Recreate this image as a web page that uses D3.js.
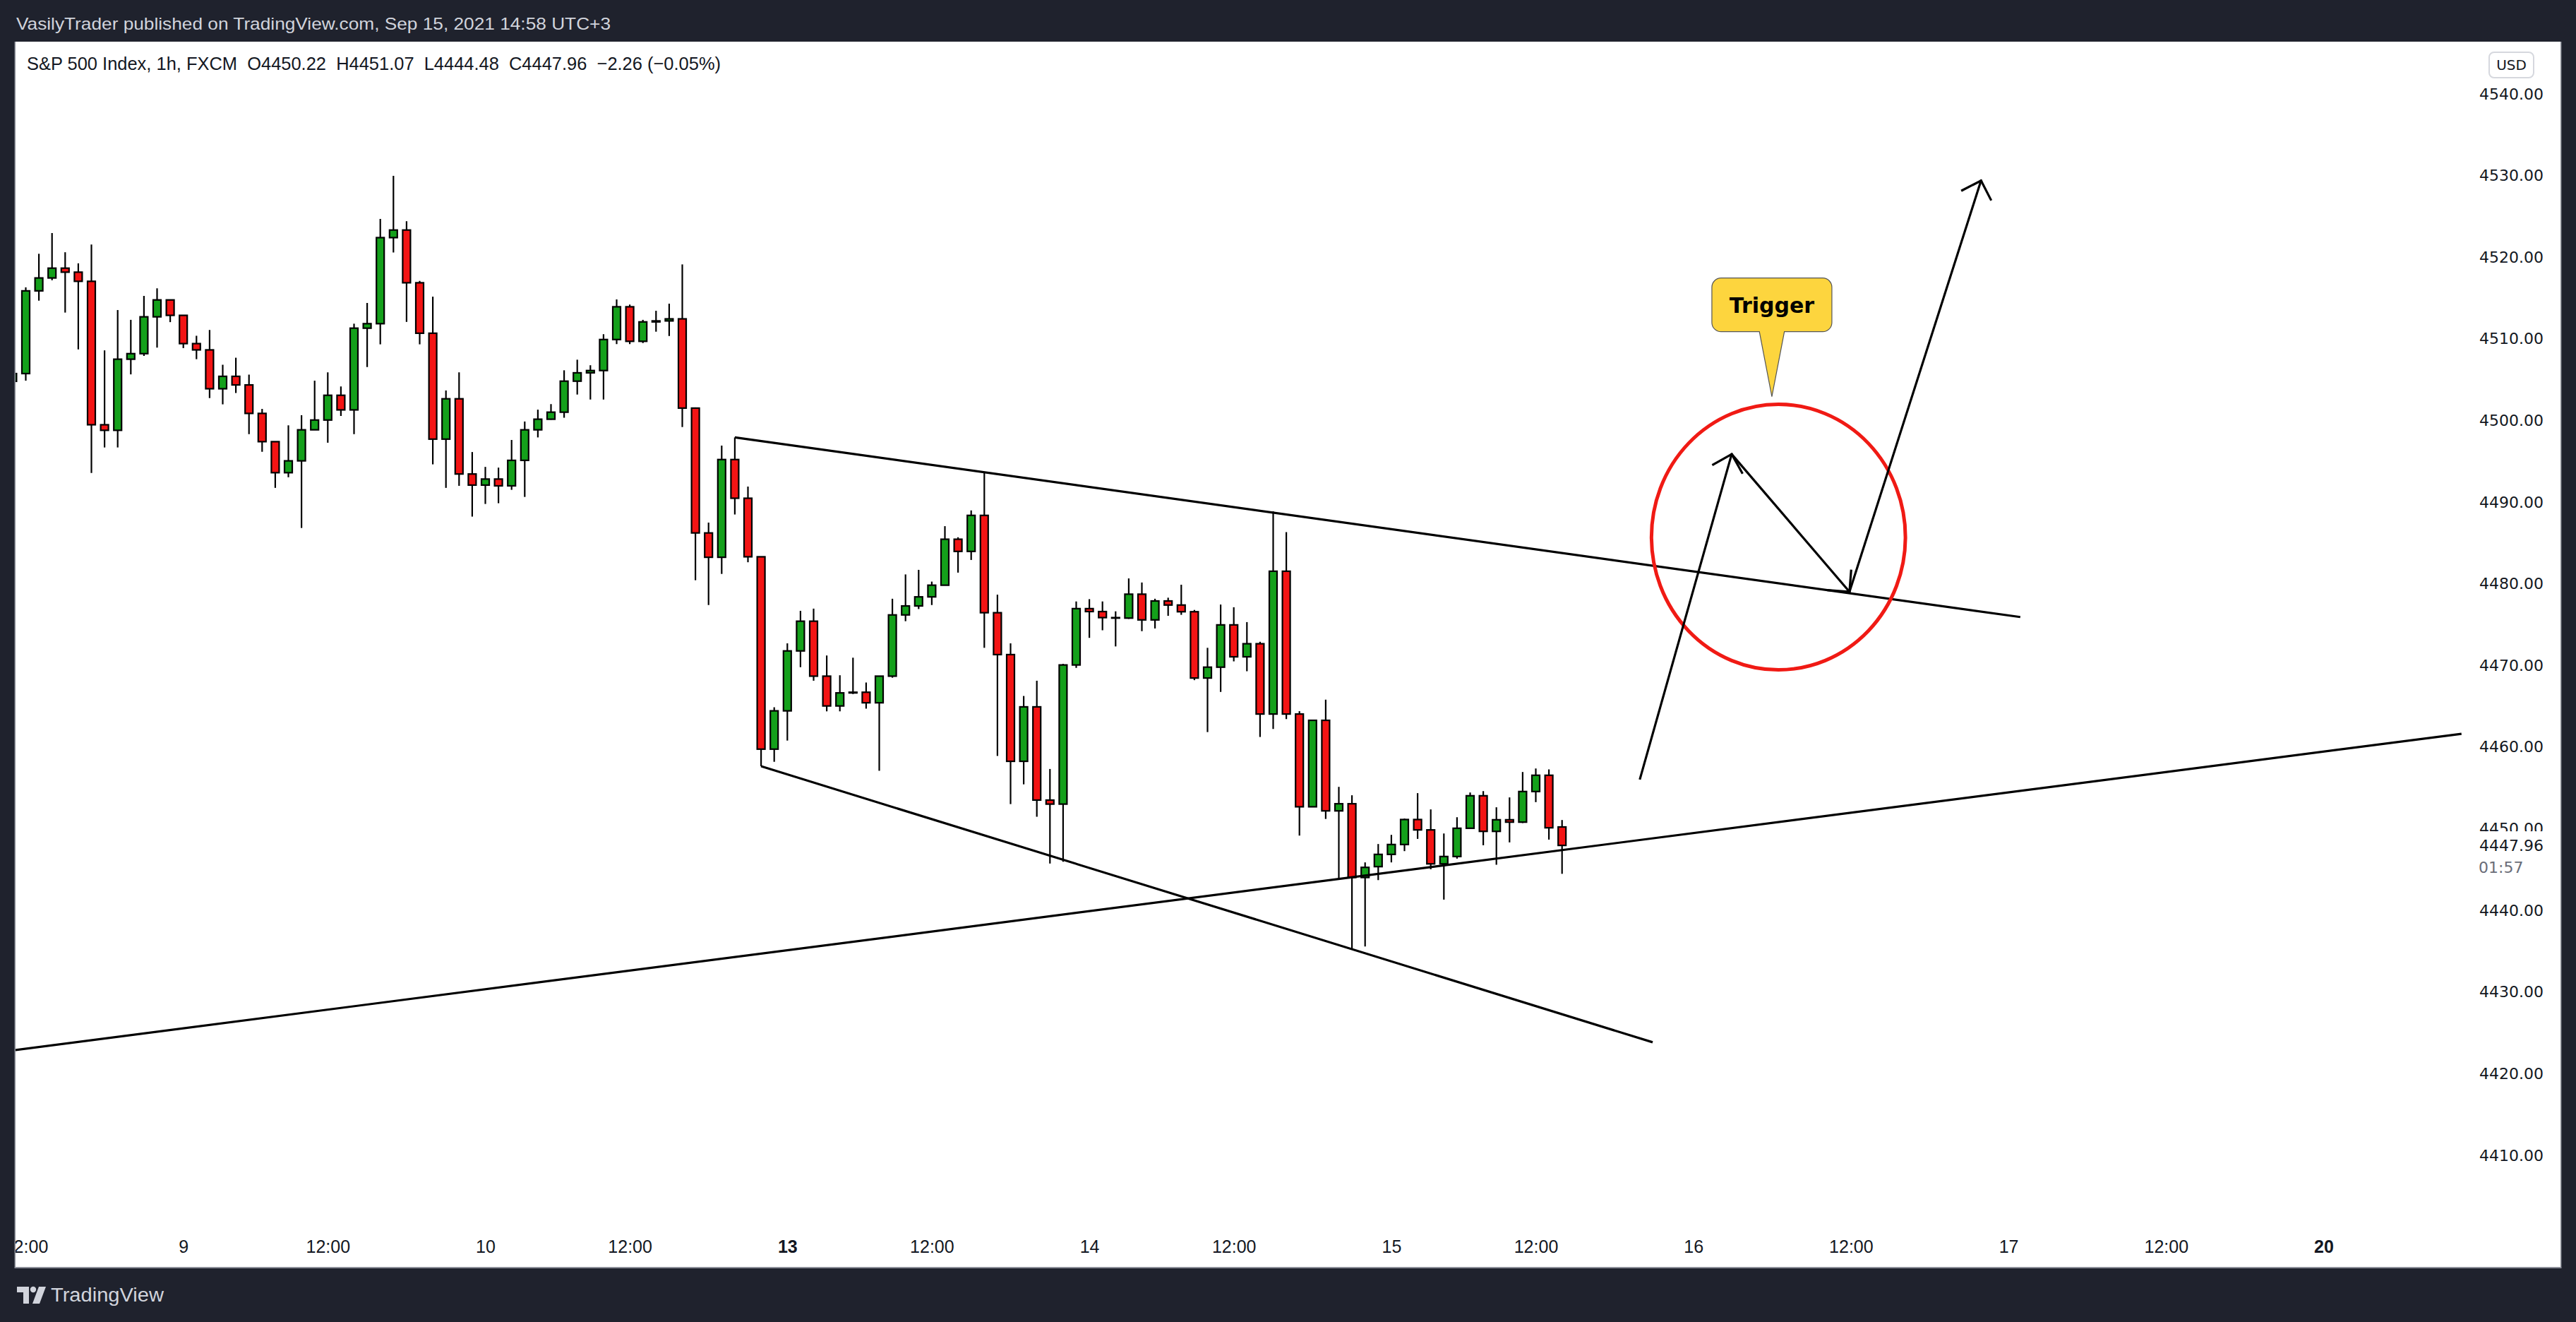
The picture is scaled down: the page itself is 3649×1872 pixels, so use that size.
<!DOCTYPE html>
<html><head><meta charset="utf-8">
<script src="https://cdn.jsdelivr.net/npm/d3@7"></script>
<style>
html,body{margin:0;padding:0;background:#1f222d;}
svg{display:block;}
</style></head>
<body>
<script>
// ---------- DATA ----------
const firstBar = -1; // bar index of first candle (bar 0 = Sep 8, 12:00)
const opens  = [4504.8,4505.75,4515.88,4517.46,4518.66,4518.17,4517.05,4499.48,4498.80,4507.51,4508.19,4512.70,4514.77,4512.88,4509.42,4508.65,4503.89,4505.41,4504.36,4500.87,4497.41,4493.61,4495.06,4498.86,4500.06,4503.09,4501.30,4511.31,4511.86,4522.40,4523.33,4516.87,4510.69,4497.72,4502.66,4493.45,4492.09,4492.83,4492.00,4495.12,4498.86,4500.16,4501.02,4504.82,4505.84,4506.12,4509.92,4513.93,4509.70,4512.08,4512.20,4512.45,4501.52,4486.23,4483.25,4495.22,4490.48,4483.31,4459.75,4464.44,4471.78,4475.42,4468.69,4465.04,4466.64,4466.72,4465.43,4468.69,4476.19,4477.29,4478.40,4479.83,4485.46,4483.97,4488.38,4476.46,4471.33,4458.26,4464.93,4453.51,4453.02,4470.06,4476.96,4476.60,4475.86,4475.80,4478.73,4475.58,4477.90,4477.40,4476.58,4468.46,4469.79,4474.97,4471.06,4472.66,4464.05,4481.54,4464.05,4452.69,4463.28,4452.19,4453.06,4444.03,4445.36,4446.86,4448.07,4451.13,4449.86,4445.70,4446.60,4450.06,4454.04,4449.68,4451.10,4450.81,4454.56,4456.55,4450.22];
const highs  = [4506.0,4516.31,4520.42,4522.96,4520.61,4519.25,4521.56,4508.59,4513.53,4512.33,4515.26,4516.19,4514.77,4512.88,4510.38,4511.09,4506.83,4507.69,4505.62,4501.42,4497.41,4499.41,4500.65,4504.88,4505.90,4504.17,4511.86,4514.40,4524.69,4529.97,4524.41,4517.10,4515.17,4503.68,4505.90,4496.14,4494.32,4494.23,4497.62,4499.88,4501.33,4502.01,4506.15,4507.45,4506.77,4510.57,4514.83,4514.20,4512.33,4513.44,4514.31,4519.12,4501.60,4487.50,4496.93,4497.93,4491.91,4483.31,4464.88,4472.71,4476.69,4476.96,4471.22,4468.80,4470.95,4467.91,4468.69,4478.17,4481.15,4481.71,4480.27,4487.06,4485.70,4488.99,4493.57,4478.67,4472.71,4466.26,4468.13,4457.32,4470.20,4477.84,4478.12,4477.84,4476.63,4480.66,4480.16,4478.17,4478.30,4479.89,4476.80,4472.16,4477.46,4477.13,4475.31,4472.90,4488.88,4486.34,4464.40,4463.28,4465.81,4455.13,4454.10,4445.88,4448.13,4449.25,4451.25,4454.36,4452.37,4449.42,4451.41,4454.44,4454.61,4452.63,4453.84,4456.95,4457.38,4457.27,4451.07];
const lows   = [4504.5,4504.88,4514.68,4517.18,4513.22,4508.71,4493.58,4496.70,4496.70,4505.65,4507.91,4508.93,4512.05,4508.87,4507.51,4502.75,4501.98,4503.37,4498.33,4496.17,4491.75,4493.05,4486.84,4498.86,4497.28,4500.56,4498.33,4506.55,4509.33,4520.58,4512.08,4509.33,4494.63,4491.75,4492.00,4488.23,4489.78,4489.87,4491.51,4490.64,4497.93,4500.10,4500.34,4503.18,4502.57,4502.57,4509.36,4509.36,4509.49,4510.88,4510.35,4499.20,4480.44,4477.40,4481.21,4488.49,4482.64,4457.65,4458.20,4460.80,4469.79,4468.13,4464.38,4464.38,4466.50,4464.71,4457.10,4468.50,4475.42,4476.91,4477.40,4479.83,4481.37,4482.92,4472.16,4458.92,4453.02,4455.44,4451.47,4445.74,4445.96,4469.70,4473.38,4474.31,4472.33,4475.70,4474.20,4474.53,4476.08,4476.20,4468.20,4461.84,4466.76,4470.50,4469.29,4461.24,4462.23,4463.44,4449.16,4452.69,4451.20,4443.95,4435.30,4435.58,4443.71,4445.88,4447.26,4448.76,4445.04,4441.32,4446.34,4450.06,4447.98,4445.59,4448.33,4450.70,4453.26,4448.67,4444.48];
const closes = [4505.75,4515.88,4517.46,4518.66,4518.17,4517.05,4499.48,4498.80,4507.51,4508.19,4512.70,4514.77,4512.88,4509.42,4508.65,4503.89,4505.41,4504.36,4500.87,4497.41,4493.61,4495.06,4498.86,4500.06,4503.09,4501.30,4511.31,4511.86,4522.40,4523.33,4516.87,4510.69,4497.72,4502.66,4493.45,4492.09,4492.83,4492.00,4495.12,4498.86,4500.16,4501.02,4504.82,4505.84,4506.12,4509.92,4513.93,4509.70,4512.08,4512.20,4512.45,4501.52,4486.23,4483.25,4495.22,4490.48,4483.31,4459.75,4464.44,4471.78,4475.42,4468.69,4465.04,4466.64,4466.72,4465.43,4468.69,4476.19,4477.29,4478.40,4479.83,4485.46,4483.97,4488.38,4476.46,4471.33,4458.26,4464.93,4453.51,4453.02,4470.06,4476.96,4476.60,4475.86,4475.80,4478.73,4475.58,4477.90,4477.40,4476.58,4468.46,4469.79,4474.97,4471.06,4472.66,4464.05,4481.54,4464.05,4452.69,4463.28,4452.19,4453.06,4444.03,4445.27,4446.86,4448.07,4451.13,4449.86,4445.70,4446.60,4450.06,4454.04,4449.68,4451.10,4450.81,4454.56,4456.55,4450.12,4447.96];

const priceTicks = [4540,4530,4520,4510,4500,4490,4480,4470,4460,4450,4440,4430,4420,4410];
const timeTickBars   = [0,12,23,35,46,58,69,81,92,104,115,127,139,151,163,175];
const timeTickLabels = ["12:00","9","12:00","10","12:00","13","12:00","14","12:00","15","12:00","16","12:00","17","12:00","20"];
const boldTimeLabels = ["13","20"];

// drawings (bar index, price)
const upperLine  = [[54,4497.93],[151.9,4475.93]];
const lowerLine  = [[56,4457.65],[123.9,4423.85]];
const risingLine = [[-2,4422.65],[185.5,4461.63]];
const arrowPath  = [[122.92,4456.02],[129.92,4495.88],[138.89,4479.02],[148.91,4529.38]];
const circleCenter = [133.48,4485.72];
const circleRadius = [9.67,16.26]; // bars, price
const triggerTip = [132.98,4502.92];
const triggerText = "Trigger";

const headerText = "VasilyTrader published on TradingView.com, Sep 15, 2021 14:58 UTC+3";
const legendText = "S&P 500 Index, 1h, FXCM  O4450.22  H4451.07  L4444.48  C4447.96  \u22122.26 (\u22120.05%)";
const lastPrice = 4447.96;
const countdown = "01:57";
const currency = "USD";

// ---------- LAYOUT ----------
const W = 3649, H = 1872;
const pane = {x0: 22, y0: 59, x1: 3627, y1: 1794};
const plotRight = 3495, plotBottom = 1725;
const x = d3.scaleLinear().domain([0,175]).range([36.5, 36.5+175*18.6]);
const y = d3.scaleLinear().domain([4410,4540]).range([1636,133]);

const GREEN = "#14a01b", RED = "#f31414";

const svg = d3.select("body").append("svg").attr("width",W).attr("height",H);
svg.append("rect").attr("width",W).attr("height",H).attr("fill","#1f222d");
// pane
svg.append("rect").attr("x",pane.x0-1.5).attr("y",pane.y0).attr("width",pane.x1-pane.x0+3).attr("height",pane.y1-pane.y0+2)
  .attr("fill","#8c8f99");
svg.append("rect").attr("x",pane.x0).attr("y",pane.y0).attr("width",pane.x1-pane.x0).attr("height",pane.y1-pane.y0)
  .attr("fill","#ffffff");

// header
svg.append("text").attr("x",23).attr("y",42).attr("fill","#d1d4dc")
  .attr("font-family","'Liberation Sans',sans-serif").attr("font-size",24)
  .attr("textLength",842).attr("lengthAdjust","spacingAndGlyphs").text(headerText);
// legend
svg.append("text").attr("x",38).attr("y",99).attr("fill","#131722")
  .attr("font-family","'Liberation Sans',sans-serif").attr("font-size",26)
  .attr("textLength",983).attr("lengthAdjust","spacingAndGlyphs")
  .style("white-space","pre").attr("xml:space","preserve").text(legendText);

// clip
svg.append("clipPath").attr("id","plotclip").append("rect")
  .attr("x",pane.x0).attr("y",pane.y0).attr("width",plotRight-pane.x0).attr("height",plotBottom-pane.y0);
const plot = svg.append("g").attr("clip-path","url(#plotclip)");

// candles
const candles = opens.map((o,i)=>({i:firstBar+i,o,h:highs[i],l:lows[i],c:closes[i]}));
const cg = plot.append("g");
cg.selectAll("line.wick").data(candles).join("line").attr("class","wick")
  .attr("x1",d=>x(d.i)).attr("x2",d=>x(d.i)).attr("y1",d=>y(d.h)).attr("y2",d=>y(d.l))
  .attr("stroke","#000").attr("stroke-width",2.2);
cg.selectAll("rect.body").data(candles).join("rect").attr("class","body")
  .attr("x",d=>x(d.i)-5.5).attr("width",11)
  .attr("y",d=>y(Math.max(d.o,d.c))).attr("height",d=>Math.max(0.5,Math.abs(y(d.o)-y(d.c))))
  .attr("fill",d=>d.c>=d.o?GREEN:RED).attr("stroke","#000").attr("stroke-width",2.2);

// trend lines
const lineGen = d3.line().x(d=>x(d[0])).y(d=>y(d[1]));
[upperLine,lowerLine,risingLine].forEach(L=>{
  plot.append("path").attr("d",lineGen(L)).attr("fill","none").attr("stroke","#000").attr("stroke-width",3.2);
});

// circle
plot.append("ellipse").attr("cx",x(circleCenter[0])).attr("cy",y(circleCenter[1]))
  .attr("rx",x(circleCenter[0]+circleRadius[0])-x(circleCenter[0]))
  .attr("ry",y(circleCenter[1]-circleRadius[1])-y(circleCenter[1]))
  .attr("fill","none").attr("stroke","#f01a14").attr("stroke-width",5);

// arrows
for(let k=1;k<arrowPath.length;k++){
  const ax=x(arrowPath[k-1][0]), ay=y(arrowPath[k-1][1]);
  const bx=x(arrowPath[k][0]), by=y(arrowPath[k][1]);
  plot.append("line").attr("x1",ax).attr("y1",ay).attr("x2",bx).attr("y2",by)
    .attr("stroke","#000").attr("stroke-width",3.2);
  const ang=Math.atan2(ay-by,ax-bx), len=30;
  [Math.PI/4,-Math.PI/4].forEach(a=>{
    plot.append("line").attr("x1",bx).attr("y1",by)
      .attr("x2",bx+len*Math.cos(ang+a)).attr("y2",by+len*Math.sin(ang+a))
      .attr("stroke","#000").attr("stroke-width",3.2).attr("stroke-linecap","square");
  });
}

// trigger callout
{
  const tx=x(triggerTip[0]), ty=y(triggerTip[1]);
  const bw=170, bh=76, r=13, top=ty-168, left=tx-bw/2, bot=top+bh, pw=17.7;
  const p = d3.path();
  p.moveTo(left+r,top); p.lineTo(left+bw-r,top); p.arcTo(left+bw,top,left+bw,top+r,r);
  p.lineTo(left+bw,bot-r); p.arcTo(left+bw,bot,left+bw-r,bot,r);
  p.lineTo(tx+pw,bot); p.lineTo(tx,ty); p.lineTo(tx-pw,bot);
  p.lineTo(left+r,bot); p.arcTo(left,bot,left,bot-r,r);
  p.lineTo(left,top+r); p.arcTo(left,top,left+r,top,r); p.closePath();
  plot.append("path").attr("d",p.toString()).attr("fill","#fdd53e").attr("stroke","#555").attr("stroke-width",1.2);
  plot.append("text").attr("x",tx).attr("y",top+bh/2+11).attr("text-anchor","middle")
    .attr("font-family","'DejaVu Sans',sans-serif").attr("font-weight","bold").attr("font-size",30)
    .attr("fill","#000").text(triggerText);
}

// price axis
const yAxis = d3.axisLeft(y).tickValues(priceTicks).tickFormat(d3.format(".2f")).tickSize(0).tickPadding(0);
const ya = svg.append("g").attr("transform","translate(3603,0)").call(yAxis);
ya.select(".domain").remove();
ya.selectAll("text").attr("font-family","'DejaVu Sans',sans-serif").attr("font-size",22).attr("fill","#131722");

// last price label
svg.append("rect").attr("x",3500).attr("y",y(lastPrice)-20).attr("width",pane.x1-3500).attr("height",72).attr("fill","#fff");
svg.append("text").attr("x",3603).attr("y",y(lastPrice)).attr("dy","0.35em").attr("text-anchor","end")
  .attr("font-family","'DejaVu Sans',sans-serif").attr("font-size",22).attr("fill","#131722").text(d3.format(".2f")(lastPrice));
svg.append("text").attr("x",3511).attr("y",y(lastPrice)+31).attr("dy","0.35em")
  .attr("font-family","'DejaVu Sans',sans-serif").attr("font-size",22).attr("fill","#6a6d78").text(countdown);

// currency box
svg.append("rect").attr("x",3526).attr("y",74).attr("width",63).attr("height",36).attr("rx",7)
  .attr("fill","#fff").attr("stroke","#d6d8de").attr("stroke-width",2);
svg.append("text").attr("x",3557.5).attr("y",92).attr("dy","0.36em").attr("text-anchor","middle")
  .attr("font-family","'DejaVu Sans',sans-serif").attr("font-size",20).attr("fill","#131722").text(currency);

// time axis
const xAxis = d3.axisBottom(x).tickValues(timeTickBars).tickFormat((d,i)=>timeTickLabels[i]).tickSize(0).tickPadding(0);
svg.append("clipPath").attr("id","xclip").append("rect").attr("x",pane.x0).attr("y",1700).attr("width",plotRight-pane.x0).attr("height",90);
const xa = svg.append("g").attr("clip-path","url(#xclip)").append("g").attr("transform","translate(0,1765)").call(xAxis);
xa.select(".domain").remove();
xa.selectAll("text").attr("y",0).attr("dy","0.36em")
  .attr("font-family","'Liberation Sans',sans-serif").attr("font-size",25).attr("fill","#131722")
  .attr("font-weight",(d,i)=>boldTimeLabels.includes(timeTickLabels[i])?"bold":"normal");

// footer logo
const logo = svg.append("g").attr("fill","#d1d4dc");
logo.append("path").attr("d","M24 1822 H41 V1846 H33 V1830 H24 Z");
logo.append("circle").attr("cx",47).attr("cy",1826).attr("r",4.2);
logo.append("path").attr("d","M55 1822 H65 L56 1846 H46 Z");
svg.append("text").attr("x",72).attr("y",1843).attr("fill","#d1d4dc")
  .attr("font-family","'Liberation Sans',sans-serif").attr("font-size",27)
  .attr("textLength",160).attr("lengthAdjust","spacingAndGlyphs").text("TradingView");
</script>
</body></html>
